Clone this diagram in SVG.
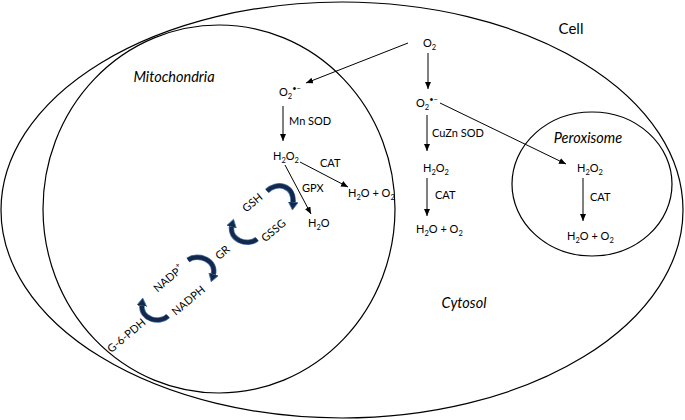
<svg xmlns="http://www.w3.org/2000/svg" width="685" height="420" viewBox="0 0 685 420">
<defs>
<marker id="ah" markerUnits="userSpaceOnUse" markerWidth="8" markerHeight="7" refX="7" refY="3" orient="auto">
<path d="M0,0 L7,3 L0,6 z" fill="#000"/>
</marker>
<marker id="bh" markerUnits="userSpaceOnUse" markerWidth="14" markerHeight="14" refX="2" refY="5" orient="auto">
<path d="M0,0 L8,5 L0,10 z" fill="#13284a" stroke="#4a78b0" stroke-width="0.8"/>
</marker>
</defs>
<style>
.mem{fill:none;stroke:#000;stroke-width:1.2}
.t{font-family:Lato,"Liberation Sans",sans-serif;font-size:11px;fill:#000}
.big{font-family:Lato,"Liberation Sans",sans-serif;font-size:15px;fill:#000}
.it{font-family:Lato,"Liberation Sans",sans-serif;font-size:14.5px;font-style:italic;fill:#000}
.sub{font-size:7.5px}
.sup{font-size:7.5px}
.ar{fill:none;stroke:#000;stroke-width:1;marker-end:url(#ah)}
.bo{fill:none;stroke:#4a78b0;stroke-width:5.5;stroke-linecap:butt}
.bi{fill:none;stroke:#13284a;stroke-width:4;stroke-linecap:butt}
.rot{font-family:Lato,"Liberation Sans",sans-serif;font-size:11px;fill:#000;text-anchor:middle;dominant-baseline:central}
</style>
<g id="cell">
<ellipse class="mem" cx="342" cy="210" rx="341" ry="208"/>
<text class="big" x="571" y="34" text-anchor="middle">Cell</text>
</g>
<g id="mitochondria">
<ellipse class="mem" cx="219" cy="209" rx="176" ry="184"/>
<text class="it" x="174" y="82" text-anchor="middle">Mitochondria</text>
</g>
<g id="peroxisome">
<ellipse class="mem" cx="592" cy="184" rx="80" ry="72"/>
<text class="it" x="588" y="143" text-anchor="middle">Peroxisome</text>
</g>
<g id="cytosol">
<text class="it" x="464" y="308" text-anchor="middle">Cytosol</text>
</g>
<g id="connectors">
<line class="ar" x1="408" y1="43" x2="306" y2="83"/>
<line class="ar" x1="428" y1="53" x2="428" y2="89"/>
<line class="ar" x1="283" y1="106" x2="283" y2="141"/>
<line class="ar" x1="427" y1="115" x2="427" y2="151"/>
<line class="ar" x1="427" y1="178" x2="427" y2="216"/>
<line class="ar" x1="440" y1="103" x2="566" y2="164"/>
<line class="ar" x1="583" y1="178" x2="583" y2="221"/>
<line class="ar" x1="300" y1="162" x2="348" y2="187"/>
<line class="ar" x1="285" y1="165" x2="311" y2="214"/>
<g id="cycle-arrows">
<path class="bo" d="M267,191 C276,182 295,184 293,204"/>
<path class="bo" d="M257,239 C248,247 228,240 232,225"/>
<path class="bo" d="M188,260 C198,253 218,260 213,276"/>
<path class="bo" d="M168,316 C160,324 140,320 142,304"/>
<path class="bi" d="M267,191 C276,182 295,184 293,204" marker-end="url(#bh)"/>
<path class="bi" d="M257,239 C248,247 228,240 232,225" marker-end="url(#bh)"/>
<path class="bi" d="M188,260 C198,253 218,260 213,276" marker-end="url(#bh)"/>
<path class="bi" d="M168,316 C160,324 140,320 142,304" marker-end="url(#bh)"/>
</g>
</g>
<g id="o2">
<text class="t" x="423" y="47">O<tspan class="sub" dy="2.5">2</tspan></text>
</g>
<g id="mito-superoxide">
<text class="t" x="279" y="96">O<tspan class="sub" dy="2.5">2</tspan><tspan class="sup" dy="-7.5">•−</tspan></text>
<text class="t" x="289" y="125">Mn SOD</text>
</g>
<g id="cyto-superoxide">
<text class="t" x="416" y="107">O<tspan class="sub" dy="2.5">2</tspan><tspan class="sup" dy="-7.5">•−</tspan></text>
<text class="t" x="432" y="137">CuZn SOD</text>
</g>
<g id="mito-h2o2">
<text class="t" x="273" y="160">H<tspan class="sub" dy="2.5">2</tspan><tspan dy="-2.5">O</tspan><tspan class="sub" dy="2.5">2</tspan></text>
<text class="t" x="320" y="167">CAT</text>
<text class="t" x="302" y="192">GPX</text>
</g>
<g id="mito-h2o-o2">
<text class="t" x="348" y="197">H<tspan class="sub" dy="2.5">2</tspan><tspan dy="-2.5">O + O</tspan><tspan class="sub" dy="2.5">2</tspan></text>
</g>
<g id="mito-h2o">
<text class="t" x="308" y="227">H<tspan class="sub" dy="2.5">2</tspan><tspan dy="-2.5">O</tspan></text>
</g>
<g id="cyto-h2o2">
<text class="t" x="423" y="172">H<tspan class="sub" dy="2.5">2</tspan><tspan dy="-2.5">O</tspan><tspan class="sub" dy="2.5">2</tspan></text>
<text class="t" x="435" y="199">CAT</text>
</g>
<g id="cyto-h2o-o2">
<text class="t" x="416" y="233">H<tspan class="sub" dy="2.5">2</tspan><tspan dy="-2.5">O + O</tspan><tspan class="sub" dy="2.5">2</tspan></text>
</g>
<g id="perox-h2o2">
<text class="t" x="577" y="172">H<tspan class="sub" dy="2.5">2</tspan><tspan dy="-2.5">O</tspan><tspan class="sub" dy="2.5">2</tspan></text>
<text class="t" x="590" y="201">CAT</text>
</g>
<g id="perox-h2o-o2">
<text class="t" x="567" y="240">H<tspan class="sub" dy="2.5">2</tspan><tspan dy="-2.5">O + O</tspan><tspan class="sub" dy="2.5">2</tspan></text>
</g>
<g id="gsh"><text class="rot" transform="translate(252,202) rotate(-40)">GSH</text></g>
<g id="gssg"><text class="rot" transform="translate(273,230) rotate(-40)">GSSG</text></g>
<g id="gr"><text class="rot" transform="translate(222,252) rotate(-40)">GR</text></g>
<g id="nadp"><text class="rot" transform="translate(168,278) rotate(-40)">NADP<tspan class="sup" dy="-4">+</tspan></text></g>
<g id="nadph"><text class="rot" transform="translate(188,300) rotate(-40)">NADPH</text></g>
<g id="g6pdh"><text class="rot" transform="translate(126,335) rotate(-40)">G-6-PDH</text></g>
</svg>
